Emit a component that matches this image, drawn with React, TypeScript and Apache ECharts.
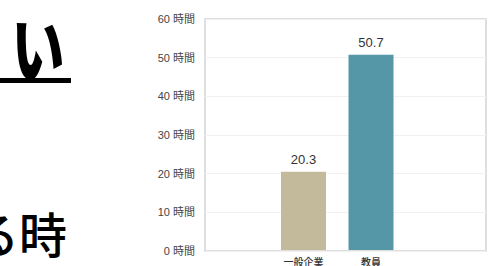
import React, { useEffect, useRef } from "react";
import * as echarts from "echarts";

const categories = ["一般企業", "教員"];
const hours = [20.3, 50.7];
const barColors = ["#c2ba9b", "#5597a6"];
const yTicks = [0, 10, 20, 30, 40, 50, 60];
const titleFragment = "い";
const bodyFragment = "る時";

export default function App() {
  const ref = useRef<HTMLDivElement>(null);
  useEffect(() => {
    if (!ref.current) return;
    const chart = echarts.init(ref.current, undefined, { renderer: "svg" });
    const font = "'Noto Sans CJK JP', 'Noto Sans', sans-serif";
    const latin = "'Liberation Sans', 'Noto Sans CJK JP', sans-serif";
    chart.setOption({
      animation: false,
      backgroundColor: "#ffffff",
      grid: [
        { left: 205, top: 19, width: 281, height: 232, show: true, borderColor: "#dedede", borderWidth: 2, backgroundColor: "transparent" },
        { left: 269.75, top: 19, width: 135, height: 232 },
      ],
      xAxis: [
        { type: "category", gridIndex: 0, data: ["a"], show: false },
        {
          type: "category",
          gridIndex: 1,
          data: categories,
          axisLine: { show: false },
          axisTick: { show: false },
          axisLabel: { color: "#333", fontSize: 10, fontFamily: font, fontWeight: 500, margin: 6 },
        },
      ],
      yAxis: [
        {
          type: "value",
          gridIndex: 0,
          min: yTicks[0],
          max: yTicks[yTicks.length - 1],
          interval: 10,
          axisLine: { show: false },
          axisTick: { show: false },
          splitLine: { lineStyle: { color: "#f1f1f1", width: 1 } },
          axisLabel: { color: "#444", fontSize: 11, fontFamily: latin, margin: 10, formatter: (v: number) => `${v} 時間` },
        },
        { type: "value", gridIndex: 1, min: 0, max: 60, show: false },
      ],
      series: [
        {
          type: "bar",
          xAxisIndex: 1,
          yAxisIndex: 1,
          barWidth: 45,
          data: hours.map((v, i) => ({ value: v, itemStyle: { color: barColors[i] } })),
          label: { show: true, position: "top", distance: 6, color: "#333", fontSize: 13, fontFamily: latin, formatter: (p: any) => p.value.toFixed(1) },
        },
      ],
      graphic: [
        {
          type: "text",
          x: 38,
          y: 45,
          scaleX: 0.85,
          scaleY: 1.2,
          style: { text: titleFragment, font: `900 62px ${font}`, fill: "#000", textAlign: "center", textVerticalAlign: "middle" },
        },
        { type: "rect", shape: { x: 0, y: 78, width: 71, height: 5 }, style: { fill: "#000" } },
        {
          type: "text",
          x: 67,
          y: 232,
          style: { text: bodyFragment, font: `500 48px ${font}`, fill: "#000", textAlign: "right", textVerticalAlign: "middle" },
        },
      ],
    });
    return () => chart.dispose();
  }, []);
  return <div ref={ref} style={{ position: "absolute", left: 0, top: 0, width: 493, height: 266 }} />;
}
